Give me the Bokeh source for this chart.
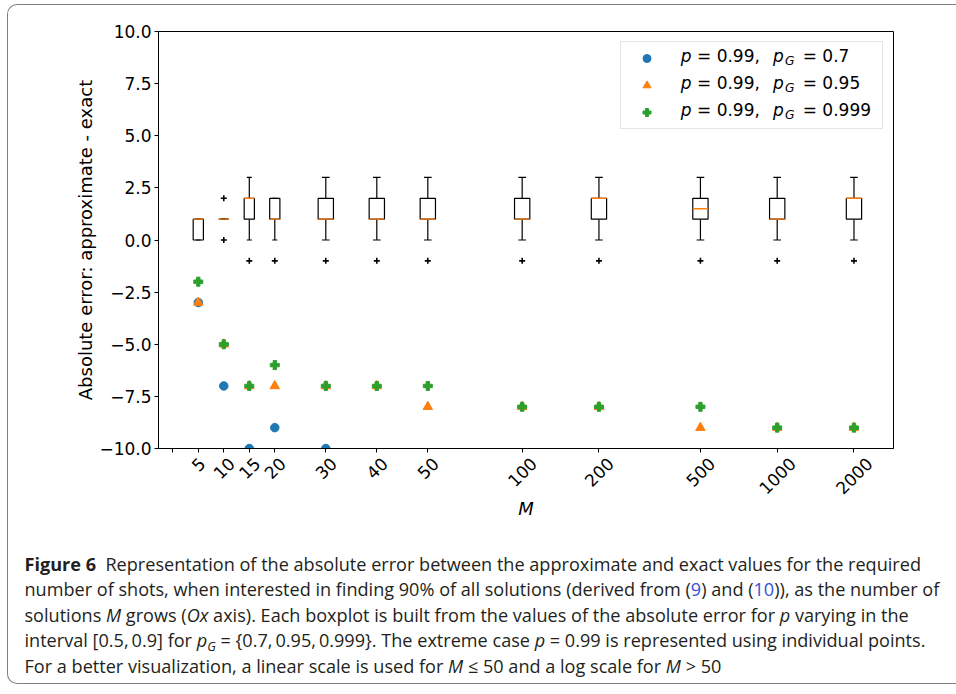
import math
from bokeh.plotting import figure
from bokeh.models import (FixedTicker, Legend, LegendItem, Label, Div, ColumnDataSource,
                          Range1d, CustomJSTickFormatter)
from bokeh.layouts import column
from bokeh.embed import file_html
from bokeh.resources import INLINE

# ---------------- data ----------------
M_values = [5, 10, 15, 20, 30, 40, 50, 100, 200, 500, 1000, 2000]
box_q1 = [0, 1, 1, 1, 1, 1, 1, 1, 1, 1, 1, 1]
box_med = [1, 1, 2, 1, 1, 1, 1, 1, 2, 1.5, 1, 2]
box_q3 = [1, 1, 2, 2, 2, 2, 2, 2, 2, 2, 2, 2]
whisker_lo = [0, 1, 0, 0, 0, 0, 0, 0, 0, 0, 0, 0]
whisker_hi = [1, 1, 3, 2, 3, 3, 3, 3, 3, 3, 3, 3]
fliers = [[], [0, 2], [-1], [-1], [-1], [-1], [-1], [-1], [-1], [-1], [-1], [-1]]

# extreme case p = 0.99
M_pg07 = [5, 10, 15, 20, 30]
err_pg07 = [-3, -7, -10, -9, -10]
M_pg095 = [5, 10, 15, 20, 30, 40, 50, 100, 200, 500, 1000, 2000]
err_pg095 = [-3, -5, -7, -7, -7, -7, -8, -8, -8, -9, -9, -9]
M_pg0999 = [5, 10, 15, 20, 30, 40, 50, 100, 200, 500, 1000, 2000]
err_pg0999 = [-2, -5, -7, -6, -7, -7, -7, -8, -8, -8, -9, -9]

x_tick_M = [0, 5, 10, 15, 20, 30, 40, 50, 100, 200, 500, 1000, 2000]
x_tick_labels = ["", "5", "10", "15", "20", "30", "40", "50", "100", "200", "500", "1000", "2000"]
y_ticks = [-10, -7.5, -5, -2.5, 0, 2.5, 5, 7.5, 10]
y_tick_labels = ["\u221210.0", "\u22127.5", "\u22125.0", "\u22122.5", "0.0", "2.5", "5.0", "7.5", "10.0"]

legend_pG = ["0.7", "0.95", "0.999"]

# ---------------- layout helpers ----------------
box_width = [2, 2, 2, 2, 3, 3, 3, 3, 3, 3, 3, 3]
Y_MIN, Y_MAX = -10, 10


def m_pos(m):
    # linear scale for M <= 50, log scale for M > 50
    if m <= 50:
        return float(m)
    return round(68.5 + 50.0 * math.log10(m / 100.0), 4)


pos = [m_pos(m) for m in M_values]
x_range = Range1d(-2.8, 141.3)
MAIN_BOTTOM = 14   # main figure's border below its frame (room for the "-10.0" label)
OVERLAP = 10       # the label strip is pulled up under that border
GAP = MAIN_BOTTOM - OVERLAP

p = figure(width=938, height=26 + 417 + MAIN_BOTTOM, output_backend="svg", toolbar_location=None,
           x_range=x_range, y_range=Range1d(Y_MIN, Y_MAX),
           min_border_left=150, min_border_right=53, min_border_top=26, min_border_bottom=MAIN_BOTTOM)
p.background_fill_color = "white"
p.border_fill_color = None
p.xgrid.visible = False
p.ygrid.visible = False
p.outline_line_color = "black"
p.outline_line_width = 1

src = ColumnDataSource(dict(
    x=pos, w=box_width, q1=box_q1, med=box_med, q3=box_q3, lo=whisker_lo, hi=whisker_hi,
    left=[x - w / 2 for x, w in zip(pos, box_width)],
    right=[x + w / 2 for x, w in zip(pos, box_width)],
    cl=[x - w / 4 for x, w in zip(pos, box_width)],
    cr=[x + w / 4 for x, w in zip(pos, box_width)],
))

p.segment(x0="x", y0="lo", x1="x", y1="q1", source=src, line_color="black", line_width=1.2)
p.segment(x0="x", y0="q3", x1="x", y1="hi", source=src, line_color="black", line_width=1.2)
p.quad(left="left", right="right", bottom="q1", top="q3", source=src,
       fill_color="white", line_color="black", line_width=1.2)
p.segment(x0="cl", y0="lo", x1="cr", y1="lo", source=src, line_color="black", line_width=1.2)
p.segment(x0="cl", y0="hi", x1="cr", y1="hi", source=src, line_color="black", line_width=1.2)
p.segment(x0="left", y0="med", x1="right", y1="med", source=src, line_color="#ff7f0e", line_width=1.4)

fx, fy = [], []
for x, fl in zip(pos, fliers):
    for v in fl:
        fx.append(x)
        fy.append(v)
p.scatter(fx, fy, marker="cross", size=6, line_color="black", line_width=1.6)

r1 = p.scatter([m_pos(m) for m in M_pg07], err_pg07, marker="circle", size=8.5,
               fill_color="#1f77b4", line_color="#1f77b4")
r2 = p.scatter([m_pos(m) for m in M_pg095], err_pg095, marker="triangle", size=9.5,
               fill_color="#ff7f0e", line_color="#ff7f0e")
r3 = p.scatter([m_pos(m) for m in M_pg0999], err_pg0999, marker="plus", size=9,
               fill_color="#2ca02c", line_color="#2ca02c")

# axes
tick_pos = [0.0 if m == 0 else m_pos(m) for m in x_tick_M]
p.xaxis.ticker = FixedTicker(ticks=tick_pos)
p.xaxis.formatter = CustomJSTickFormatter(code="return ''")
p.xaxis.major_label_text_font_size = "0px"
p.xaxis.major_label_standoff = 0
p.yaxis.ticker = FixedTicker(ticks=y_ticks)
p.yaxis.major_label_overrides = {t: l for t, l in zip(y_ticks, y_tick_labels)}
p.yaxis.major_label_text_font = "DejaVu Sans"
p.yaxis.major_label_text_font_size = "17px"
p.yaxis.major_label_text_color = "black"
p.yaxis.major_label_standoff = 3
for ax in (p.xaxis[0], p.yaxis[0]):
    ax.minor_tick_line_color = None
    ax.major_tick_in = 0
    ax.major_tick_out = 4
    ax.major_tick_line_color = "black"
    ax.axis_line_color = "black"
p.yaxis.axis_label = "Absolute error: approximate - exact"
p.yaxis.axis_label_text_font = "DejaVu Sans"
p.yaxis.axis_label_text_font_size = "18px"
p.yaxis.axis_label_text_color = "black"
p.yaxis.axis_label_text_font_style = "normal"
p.yaxis.axis_label_standoff = 0

# legend (markers + frame), text drawn with math-like styling
legend = Legend(items=[LegendItem(label=" ", renderers=[r1]),
                       LegendItem(label=" ", renderers=[r2]),
                       LegendItem(label=" ", renderers=[r3])],
                location="top_right", glyph_width=39, glyph_height=20, label_height=20,
                label_width=205, label_standoff=5, padding=6, spacing=7, margin=10,
                border_line_color="#cccccc", border_line_width=1,
                background_fill_color=None, background_fill_alpha=0,
                label_text_font_size="17px")
p.add_layout(legend)

row_base = [392.8, 365.8, 338.8]
for yb, pg in zip(row_base, legend_pG):
    segs = [("p", 522.2, 0, "italic", "17px"),
            ("= 0.99,", 538.5, 0, "normal", "17px"),
            ("p", 614.5, 0, "italic", "17px"),
            ("G", 626.5, -5.6, "italic", "12.3px"),
            ("= " + pg, 644.2, 0, "normal", "17px")]
    for txt, xx, dy, style, fs in segs:
        p.add_layout(Label(x=xx, y=yb + dy, x_units="screen", y_units="screen", text=txt,
                           text_font="DejaVu Sans", text_font_style=style, text_font_size=fs,
                           text_baseline="alphabetic", text_align="left", text_color="black",
                           level="overlay"))

# ---- strip under the axis: rotated x tick labels (centred under ticks) and the axis title ----
STRIP_H = 83
p2 = figure(width=938, height=STRIP_H, output_backend="svg", toolbar_location=None,
            x_range=x_range, y_range=Range1d(-STRIP_H, 0),
            min_border_left=150, min_border_right=53, min_border_top=0, min_border_bottom=0,
            margin=(-OVERLAP, 0, 0, 0))
p2.axis.visible = False
p2.grid.visible = False
p2.outline_line_color = None
p2.background_fill_color = None
p2.border_fill_color = None

char_w = 17 * 0.636
lab_x, lab_y, lab_t = [], [], []
for xt, txt in zip(tick_pos, x_tick_labels):
    if not txt:
        continue
    off = 4 + 3.5 + 0.3536 * (len(txt) * char_w + 12.4)
    lab_x.append(xt)
    lab_y.append(-(off - GAP))
    lab_t.append(txt)
p2.text(x=lab_x, y=lab_y, text=lab_t, angle=math.pi / 4, text_align="center",
        text_baseline="middle", text_font={"value": "DejaVu Sans"}, text_font_size={"value": "17px"},
        text_color="black")
p2.text(x=[(x_range.start + x_range.end) / 2], y=[-55.5], text=["M"], text_align="center",
        text_baseline="middle", text_font={"value": "DejaVu Sans"}, text_font_style="italic",
        text_font_size={"value": "18px"}, text_color="black")

blue = "<span style='color:#3a4fd6'>"
sub_g = "<span style='font-size:70%;vertical-align:-0.3em;line-height:0'><i>G</i></span>"
caption = (
    "<div style=\"font-family:'Open Sans',sans-serif;font-size:18.1px;"
    "line-height:25.6px;white-space:nowrap;color:#231f20;padding:11.7px 0 0 11.5px;\">"
    "<b>Figure 6</b>&nbsp; Representation of the absolute error between the approximate and exact values for the required<br>"
    "number of shots, when interested in finding 90% of all solutions (derived from (" + blue + "9</span>) and ("
    + blue + "10</span>)), as the number of<br>"
    "solutions <i>M</i> grows (<i>Ox</i> axis). Each boxplot is built from the values of the absolute error for <i>p</i> varying in the<br>"
    "interval [0.5,&#8201;0.9] for <i>p</i>" + sub_g + " = {0.7,&#8201;0.95,&#8201;0.999}. The extreme case <i>p</i> = 0.99 is represented using individual points.<br>"
    "For a better visualization, a linear scale is used for <i>M</i> &le; 50 and a log scale for <i>M</i> &gt; 50"
    "</div>"
)
div = Div(text=caption, width=938, height=138)

layout = column(p, p2, div, spacing=0,
                styles={"margin": "4px 0 0 7px",
                        "border-top": "1.5px solid #808080", "border-left": "1.5px solid #808080",
                        "border-bottom": "1.5px solid #808080",
                        "border-radius": "10px 0 0 10px"})

open("out.html", "w").write(file_html(layout, INLINE))
